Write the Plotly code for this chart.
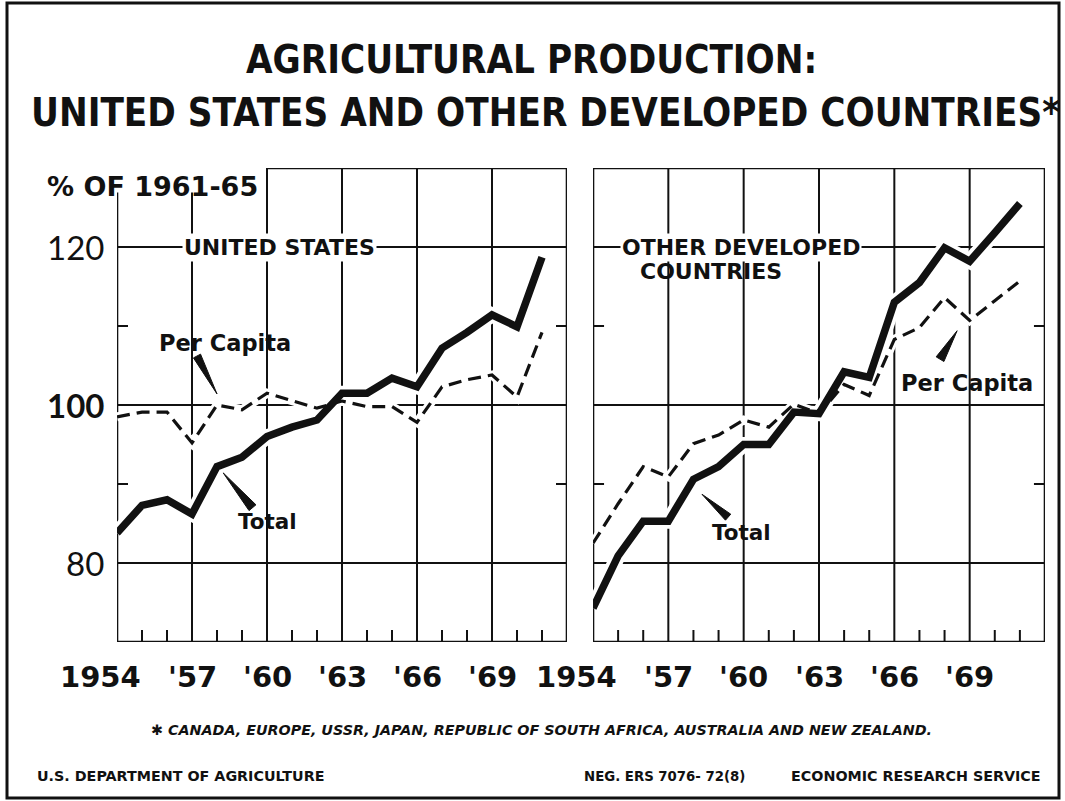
import plotly.graph_objects as go

# ---- data -------------------------------------------------------------
years = list(range(1954, 1972))

us_total = [83.8, 87.3, 88.0, 86.2, 92.2, 93.4, 96.0, 97.2, 98.1, 101.5,
            101.5, 103.4, 102.3, 107.2, 109.2, 111.4, 109.9, 118.7]
us_per_capita = [98.5, 99.1, 99.1, 95.2, 100.0, 99.4, 101.5, 100.6, 99.6, 100.5,
                 99.8, 99.8, 97.8, 102.3, 103.2, 103.8, 101.0, 109.2]

odc_total = [74.3, 80.9, 85.3, 85.3, 90.6, 92.2, 95.0, 95.0, 99.1, 98.9,
             104.2, 103.5, 113.0, 115.5, 119.9, 118.2, 121.8, 125.5]
odc_per_capita = [82.5, 87.5, 92.2, 90.9, 95.1, 96.2, 98.1, 97.2, 100.1, 98.9,
                  102.6, 101.2, 108.3, 109.8, 113.6, 110.7, 113.2, 115.7]

major_years = [1957, 1960, 1963, 1966, 1969]
year_labels = ["1954", "'57", "'60", "'63", "'66", "'69"]
label_years = [1954, 1957, 1960, 1963, 1966, 1969]
y_major = [80, 100, 120]
y_minor = [90, 110]
y_labels = ["80", "100", "120"]

# ---- geometry ---------------------------------------------------------
W, H = 1065, 801
X0, X1 = 1954, 1972
Y0, Y1 = 70, 130
left_px = (117, 567)
right_px = (593, 1045)
ytop_px, ybot_px = 168, 642

BLACK = "#111111"
TITLE_FONT = "DejaVu Sans Condensed, DejaVu Sans, sans-serif"
BODY_FONT = "DejaVu Sans, Verdana, sans-serif"

fig = go.Figure()

panels = [
    ("x", "y", us_total, us_per_capita),
    ("x2", "y2", odc_total, odc_per_capita),
]

# white halos keep the grid from running through the curves
for xa, ya, tot, pc in panels:
    fig.add_trace(go.Scatter(x=years, y=pc, xaxis=xa, yaxis=ya, mode="lines",
                             line=dict(color="white", width=9), hoverinfo="skip"))
    fig.add_trace(go.Scatter(x=years, y=tot, xaxis=xa, yaxis=ya, mode="lines",
                             line=dict(color="white", width=15), hoverinfo="skip"))
for xa, ya, tot, pc in panels:
    fig.add_trace(go.Scatter(x=years, y=pc, xaxis=xa, yaxis=ya, mode="lines",
                             name="Per Capita",
                             line=dict(color=BLACK, width=3.2, dash="13px,7px")))
    fig.add_trace(go.Scatter(x=years, y=tot, xaxis=xa, yaxis=ya, mode="lines",
                             name="Total",
                             line=dict(color=BLACK, width=7.5)))

axis_common = dict(showgrid=False, zeroline=False, showline=False,
                   showticklabels=False, ticks="", fixedrange=True)
ydom = [1 - ybot_px / H, 1 - ytop_px / H]
fig.update_layout(
    xaxis=dict(domain=[left_px[0] / W, left_px[1] / W], range=[X0, X1], **axis_common),
    yaxis=dict(domain=ydom, range=[Y0, Y1], **axis_common),
    xaxis2=dict(domain=[right_px[0] / W, right_px[1] / W], range=[X0, X1],
                anchor="y2", **axis_common),
    yaxis2=dict(domain=ydom, range=[Y0, Y1], anchor="x2", **axis_common),
)

shapes = []


def seg(xr, yr, x0, y0, x1, y1, w=2.2, layer="below"):
    shapes.append(dict(type="line", xref=xr, yref=yr, x0=x0, y0=y0, x1=x1, y1=y1,
                       line=dict(color=BLACK, width=w), layer=layer))


px_per_year = (left_px[1] - left_px[0]) / (X1 - X0)
px_per_unit = (ybot_px - ytop_px) / (Y1 - Y0)


def dx(px):
    return px / px_per_year


def dy(px):
    return px / px_per_unit


for i, (xa, ya, _, _) in enumerate(panels):
    xr, yr = xa, ya
    # frame: bottom, left, right
    seg(xr, yr, X0, Y0, X1, Y0, 2.6)
    seg(xr, yr, X1, Y0, X1, Y1, 2.6)
    if i == 0:
        # top border leaves room for the unit label
        seg(xr, yr, 1960, Y1, X1, Y1, 2.6)
        seg(xr, yr, X0, Y0, X0, 126.9, 2.6)
    else:
        seg(xr, yr, X0, Y1, X1, Y1, 2.6)
        seg(xr, yr, X0, Y0, X0, Y1, 2.6)
    # vertical grid
    for yv in major_years:
        top = 126.9 if (i == 0 and yv < 1960) else Y1
        seg(xr, yr, yv, Y0, yv, top, 2.0)
    # yearly ticks along the bottom
    for yv in years[1:]:
        if yv not in major_years:
            seg(xr, yr, yv, Y0, yv, Y0 + dy(12), 2.0)
    # horizontal grid
    for v in y_major:
        seg(xr, yr, X0 - dx(9), v, X1, v, 2.0)
    for v in y_minor:
        seg(xr, yr, X0, v, X0 + dx(11), v, 2.0)
        seg(xr, yr, X1 - dx(11), v, X1, v, 2.0)


def wedge(xr, yr, tip, base, width_px):
    # tapered pointer from a label to a curve
    tx, ty = tip
    bx, by = base
    vx, vy = (bx - tx) * px_per_year, (by - ty) * px_per_unit
    n = (vx ** 2 + vy ** 2) ** 0.5
    nx, ny = -vy / n, vx / n
    h = width_px / 2
    p1 = (bx + dx(nx * h), by + dy(ny * h))
    p2 = (bx - dx(nx * h), by - dy(ny * h))
    path = f"M {tx},{ty} L {p1[0]},{p1[1]} L {p2[0]},{p2[1]} Z"
    shapes.append(dict(type="path", xref=xr, yref=yr, path=path,
                       fillcolor=BLACK, line=dict(color=BLACK, width=1), layer="above"))


wedge("x", "y", (1958.0, 101.4), (1957.2, 106.2), 8)
wedge("x", "y", (1958.25, 91.4), (1959.42, 87.0), 9)
wedge("x2", "y2", (1968.5, 109.4), (1967.82, 105.8), 9)
wedge("x2", "y2", (1958.34, 88.7), (1959.38, 85.8), 8)

# page border
shapes.append(dict(type="rect", xref="paper", yref="paper",
                   x0=7 / W, x1=1059 / W, y0=1 - 798 / H, y1=1 - 3 / H,
                   line=dict(color=BLACK, width=3), layer="below"))

annotations = []


def note(text, x, y, size, xr="paper", yr="paper", xanchor="center", yanchor="middle",
         family=BODY_FONT, weight="bold", style="normal", bg=None):
    a = dict(text=text, x=x, y=y, xref=xr, yref=yr, showarrow=False,
             xanchor=xanchor, yanchor=yanchor,
             font=dict(family=family, size=size, color=BLACK, weight=weight, style=style))
    if bg:
        a["bgcolor"] = bg
        a["borderpad"] = 1
    annotations.append(a)


note("AGRICULTURAL PRODUCTION:", 531 / W, 1 - 60 / H, 38.2, family=TITLE_FONT)
note("UNITED STATES AND OTHER DEVELOPED COUNTRIES*", 545 / W, 1 - 113 / H, 38.2,
     family=TITLE_FONT)

note("% OF 1961-65", 45 / W, 1 - 186 / H, 27, xanchor="left")
for v, t in zip(y_major, y_labels):
    note(t, 106 / W, v, 33, yr="y", xanchor="right", weight="normal" if v != 100 else "bold",
         family="Lato, DejaVu Sans, sans-serif")

for xa in ("x", "x2"):
    for yv, t in zip(label_years, year_labels):
        shift = -17 if yv == 1954 else 0
        annotations.append(dict(text=t, x=yv, y=1 - 677 / H, xref=xa, yref="paper",
                                showarrow=False, xanchor="center", yanchor="middle",
                                xshift=shift,
                                font=dict(family=BODY_FONT, size=29, color=BLACK,
                                          weight="bold")))

note("UNITED STATES", 1960.5, 120, 22, xr="x", yr="y", bg="white")
note("Per Capita", 1958.3, 107.8, 22.5, xr="x", yr="y")
note("Total", 1960.0, 85.2, 21.5, xr="x", yr="y")
note("OTHER DEVELOPED", 1959.9, 120, 22, xr="x2", yr="y2", bg="white")
note("COUNTRIES", 1958.7, 116.9, 22, xr="x2", yr="y2")
note("Per Capita", 1968.9, 102.8, 22.5, xr="x2", yr="y2")
note("Total", 1959.9, 83.9, 21.5, xr="x2", yr="y2")

note("✱ CANADA, EUROPE, USSR, JAPAN, REPUBLIC OF SOUTH AFRICA, AUSTRALIA AND NEW ZEALAND.",
     541 / W, 1 - 730 / H, 14.3, style="italic")
note("U.S. DEPARTMENT OF AGRICULTURE", 35 / W, 1 - 776 / H, 14.3, xanchor="left")
note("NEG. ERS 7076- 72(8)", 582 / W, 1 - 776 / H, 13.3, xanchor="left")
note("ECONOMIC RESEARCH SERVICE", 1043 / W, 1 - 776 / H, 14.3, xanchor="right")

fig.update_layout(
    width=W, height=H, margin=dict(l=0, r=0, t=0, b=0),
    paper_bgcolor="white", plot_bgcolor="white",
    showlegend=False, shapes=shapes, annotations=annotations,
)

fig.write_html("out.html")
